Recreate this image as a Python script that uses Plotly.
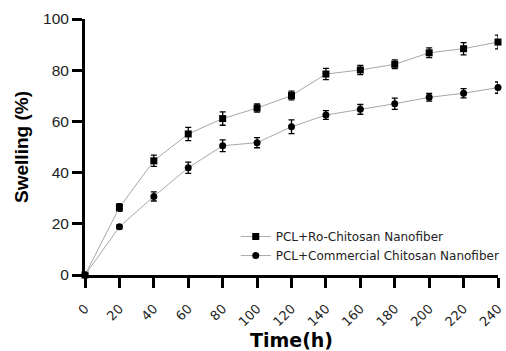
import plotly.graph_objects as go

time_h = [0, 20, 40, 60, 80, 100, 120, 140, 160, 180, 200, 220, 240]
ro_chitosan = [0, 26.4, 44.6, 55.1, 61.1, 65.2, 70.1, 78.5, 80.1, 82.3, 86.8, 88.4, 91.0]
ro_err = [0, 1.5, 2.2, 2.6, 2.6, 1.6, 1.7, 2.2, 1.8, 1.7, 1.9, 2.4, 2.7]
commercial = [0, 18.8, 30.7, 41.9, 50.5, 51.7, 57.9, 62.5, 64.7, 66.9, 69.4, 71.0, 73.2]
com_err = [0, 0.8, 1.8, 2.2, 2.3, 2.0, 2.7, 1.7, 1.9, 2.2, 1.5, 1.8, 2.2]
x_ticks = list(range(0, 241, 20))
y_ticks = [0, 20, 40, 60, 80, 100]

fig = go.Figure()
fig.add_trace(go.Scatter(
    x=time_h, y=ro_chitosan, mode="lines+markers",
    name="PCL+Ro-Chitosan Nanofiber",
    line=dict(color="#a8a8a8", width=1),
    marker=dict(symbol="square", size=7, color="black"),
    error_y=dict(type="data", array=ro_err, color="black", thickness=1.3, width=3),
    cliponaxis=False,
))
fig.add_trace(go.Scatter(
    x=time_h, y=commercial, mode="lines+markers",
    name="PCL+Commercial Chitosan Nanofiber",
    line=dict(color="#a8a8a8", width=1),
    marker=dict(symbol="circle", size=7, color="black"),
    error_y=dict(type="data", array=com_err, color="black", thickness=1.3, width=3),
    cliponaxis=False,
))

fig.update_layout(
    width=506, height=351,
    margin=dict(l=85, r=8, t=19, b=76, autoexpand=False),
    plot_bgcolor="white", paper_bgcolor="white",
    showlegend=True,
    legend=dict(x=0.365, y=0.113, xanchor="left", yanchor="middle",
                font=dict(family="DejaVu Sans", size=12, color="#222"),
                bgcolor="rgba(0,0,0,0)", tracegroupgap=0, itemwidth=30),
    xaxis=dict(
        range=[0, 240], tickvals=x_ticks, ticktext=[str(v) for v in x_ticks],
        tickangle=-45, showgrid=False, zeroline=False, automargin=False,
        showline=True, linecolor="black", linewidth=3,
        ticks="outside", ticklen=10, tickwidth=2.5, tickcolor="black",
        ticklabelstandoff=8,
        tickfont=dict(family="DejaVu Sans", size=13, color="#222"),
        title=dict(text="<b>Time(h)</b>", font=dict(family="DejaVu Sans", size=19, color="black"), standoff=8),
    ),
    yaxis=dict(
        range=[0, 100], tickvals=y_ticks, showgrid=False, zeroline=False, automargin=False,
        showline=True, linecolor="black", linewidth=3,
        ticks="outside", ticklen=10, tickwidth=2.5, tickcolor="black",
        tickfont=dict(family="Liberation Sans", size=15.5, color="#222"),
        title=dict(text="<b>Swelling (%)</b>", font=dict(family="Liberation Sans", size=19, color="black"), standoff=10),
    ),
)

fig.write_html("out.html", config={"displayModeBar": False, "responsive": False},
               post_script="document.body.style.margin='0';document.body.style.overflow='hidden';")
